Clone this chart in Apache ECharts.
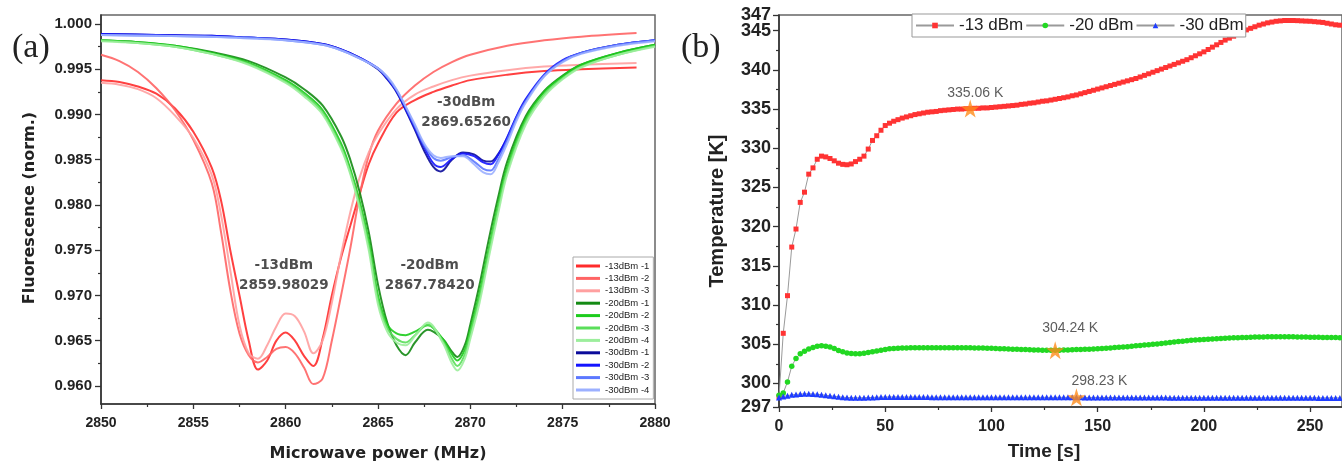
<!DOCTYPE html>
<html>
<head>
<meta charset="utf-8">
<title>ODMR spectra and temperature</title>
<script src="https://cdn.jsdelivr.net/npm/echarts@6/dist/echarts.min.js"></script>
<style>
  html, body { margin: 0; padding: 0; background: #fff; overflow: hidden; }
  #chart { width: 1342px; height: 463px; }
</style>
</head>
<body>
<div id="chart"></div>
<script>
// ---------- (a) fluorescence spectra ----------
const freqRed = [2850, 2851, 2852, 2853, 2854, 2855, 2856, 2856.5, 2857, 2857.5, 2858, 2858.5, 2859, 2859.5, 2860,
  2860.5, 2861, 2861.5, 2862, 2862.5, 2863, 2863.5, 2864, 2864.5, 2865, 2866, 2867, 2868, 2869, 2870, 2872, 2874, 2876, 2879]
const red1 = [0.9938, 0.9936, 0.9931, 0.9923, 0.9907, 0.9881, 0.9841, 0.9805, 0.9750, 0.9700, 0.9650, 0.9618, 0.9628, 0.9650, 0.9659,
  0.9650, 0.9633, 0.9622, 0.9652, 0.9700, 0.9742, 0.9777, 0.9812, 0.9845, 0.9868, 0.9902, 0.9916, 0.9925, 0.9932, 0.9938, 0.9944, 0.9948, 0.9950, 0.9952]
const red2 = [0.9966, 0.9959, 0.9947, 0.9929, 0.9905, 0.9872, 0.9824, 0.9770, 0.9706, 0.9658, 0.9634, 0.9626, 0.9632, 0.9641, 0.9643,
  0.9636, 0.9620, 0.9602, 0.9608, 0.9650, 0.9700, 0.9752, 0.9810, 0.9855, 0.9882, 0.9912, 0.9932, 0.9947, 0.9958, 0.9966, 0.9976, 0.9982, 0.9986, 0.9990]
const red3 = [0.9935, 0.9933, 0.9928, 0.9918, 0.9899, 0.9874, 0.9833, 0.9789, 0.9728, 0.9667, 0.9636, 0.9630, 0.9645, 0.9666, 0.9680,
  0.9677, 0.9660, 0.9636, 0.9650, 0.9692, 0.9745, 0.9792, 0.9830, 0.9858, 0.9878, 0.9906, 0.9922, 0.9931, 0.9938, 0.9943, 0.9949, 0.9953, 0.9955, 0.9957]

const freqGreen = [2850, 2852, 2854, 2856, 2858, 2860, 2861, 2862, 2863, 2863.5, 2864, 2864.5, 2865, 2865.5, 2866, 2866.5, 2867,
  2867.7, 2868.5, 2869, 2869.3, 2869.7, 2870, 2870.5, 2871, 2871.5, 2872, 2873, 2874, 2875, 2876, 2878, 2880]
const green1 = [0.9982, 0.9980, 0.9976, 0.9969, 0.9959, 0.9941, 0.9928, 0.9910, 0.9876, 0.9850, 0.9815, 0.9770, 0.9712, 0.9670, 0.9645, 0.9634, 0.9648,
  0.9662, 0.9652, 0.9638, 0.9632, 0.9645, 0.9668, 0.9712, 0.9762, 0.9808, 0.9848, 0.9898, 0.9926, 0.9943, 0.9955, 0.9968, 0.9977]
const green2 = [0.9982, 0.9980, 0.9976, 0.9968, 0.9957, 0.9938, 0.9924, 0.9905, 0.9868, 0.9840, 0.9805, 0.9760, 0.9700, 0.9668, 0.9658, 0.9656, 0.9660,
  0.9667, 0.9652, 0.9635, 0.9628, 0.9640, 0.9662, 0.9703, 0.9752, 0.9800, 0.9842, 0.9895, 0.9925, 0.9942, 0.9955, 0.9968, 0.9977]
const green3 = [0.9982, 0.9979, 0.9975, 0.9967, 0.9956, 0.9936, 0.9922, 0.9902, 0.9864, 0.9836, 0.9800, 0.9755, 0.9695, 0.9664, 0.9652, 0.9648, 0.9656,
  0.9668, 0.9650, 0.9630, 0.9622, 0.9635, 0.9658, 0.9698, 0.9748, 0.9796, 0.9838, 0.9892, 0.9922, 0.9940, 0.9953, 0.9966, 0.9976]
const green4 = [0.9981, 0.9979, 0.9975, 0.9967, 0.9955, 0.9935, 0.9920, 0.9900, 0.9862, 0.9834, 0.9797, 0.9750, 0.9690, 0.9660, 0.9648, 0.9645, 0.9655,
  0.9670, 0.9648, 0.9625, 0.9617, 0.9630, 0.9652, 0.9692, 0.9742, 0.9790, 0.9834, 0.9889, 0.9920, 0.9939, 0.9952, 0.9966, 0.9975]

const freqBlue = [2850, 2853, 2856, 2858, 2860, 2862, 2863, 2864, 2865, 2865.5, 2866, 2866.5, 2867, 2867.5, 2868, 2868.4, 2869,
  2869.6, 2870.2, 2870.7, 2871.1, 2871.5, 2872, 2872.5, 2873, 2874, 2875, 2876, 2878, 2880]
const blue1 = [0.9989, 0.9988, 0.9987, 0.9985, 0.9983, 0.9978, 0.9972, 0.9963, 0.9950, 0.9939, 0.9925, 0.9905, 0.9883, 0.9860, 0.9842, 0.9837, 0.9850,
  0.9858, 0.9856, 0.9849, 0.9848, 0.9856, 0.9874, 0.9897, 0.9916, 0.9943, 0.9959, 0.9968, 0.9977, 0.9982]
const blue2 = [0.9989, 0.9988, 0.9987, 0.9985, 0.9983, 0.9978, 0.9972, 0.9963, 0.9951, 0.9940, 0.9926, 0.9906, 0.9885, 0.9864, 0.9846, 0.9842, 0.9851,
  0.9857, 0.9854, 0.9847, 0.9845, 0.9855, 0.9875, 0.9898, 0.9917, 0.9944, 0.9960, 0.9968, 0.9977, 0.9982]
const blue3 = [0.9988, 0.9987, 0.9986, 0.9985, 0.9982, 0.9977, 0.9971, 0.9962, 0.9951, 0.9941, 0.9927, 0.9908, 0.9887, 0.9866, 0.9852, 0.9849, 0.9853,
  0.9855, 0.9848, 0.9840, 0.9838, 0.9850, 0.9872, 0.9896, 0.9915, 0.9943, 0.9959, 0.9968, 0.9977, 0.9982]
const blue4 = [0.9988, 0.9987, 0.9986, 0.9984, 0.9982, 0.9977, 0.9971, 0.9962, 0.9951, 0.9942, 0.9928, 0.9909, 0.9889, 0.9868, 0.9855, 0.9852, 0.9854,
  0.9854, 0.9845, 0.9836, 0.9834, 0.9846, 0.9868, 0.9893, 0.9913, 0.9942, 0.9958, 0.9967, 0.9976, 0.9981]

const freqTicks = [2850, 2855, 2860, 2865, 2870, 2875, 2880]
const freqMinor = [2852.5, 2857.5, 2862.5, 2867.5, 2872.5, 2877.5]
const fluorTicks = [0.960, 0.965, 0.970, 0.975, 0.980, 0.985, 0.990, 0.995, 1.000]
const fluorMinor = [0.9625, 0.9675, 0.9725, 0.9775, 0.9825, 0.9875, 0.9925, 0.9975]

const peakNotes = ['-13dBm\n2859.98029', '-20dBm\n2867.78420', '-30dBm\n2869.65260']
const peakNoteX = [2859.9, 2867.8, 2869.77]
const peakNoteY = [0.9722, 0.9722, 0.9902]

// ---------- (b) temperature vs time ----------
const times = [0, 2, 4, 6, 8, 10, 12, 14, 16, 18, 20, 22, 24, 26, 28, 30, 32, 34, 36, 38,
  40, 42, 44, 46, 48, 50, 52, 54, 56, 58, 60, 62, 64, 66, 68, 70, 72, 74, 76, 78,
  80, 82, 84, 86, 88, 90, 92, 94, 96, 98, 100, 102, 104, 106, 108, 110, 112, 114, 116, 118,
  120, 122, 124, 126, 128, 130, 132, 134, 136, 138, 140, 142, 144, 146, 148, 150, 152, 154, 156, 158,
  160, 162, 164, 166, 168, 170, 172, 174, 176, 178, 180, 182, 184, 186, 188, 190, 192, 194, 196, 198,
  200, 202, 204, 206, 208, 210, 212, 214, 216, 218, 220, 222, 224, 226, 228, 230, 232, 234, 236, 238,
  240, 242, 244, 246, 248, 250, 252, 254, 256, 258, 260, 262, 264]
const temp13 = [298.3, 306.4, 311.2, 317.4, 319.7, 323.1, 324.4, 326.7, 327.5, 328.6,
  329.0, 328.9, 328.7, 328.4, 328.1, 327.95, 327.9, 328.0, 328.3, 328.6,
  329.0, 329.9, 331.0, 331.6, 332.3, 332.9, 333.2, 333.45, 333.65, 333.85,
  334.0, 334.15, 334.3, 334.4, 334.5, 334.6, 334.65, 334.7, 334.8, 334.85,
  334.9, 334.95, 335.0, 335.0, 335.05, 335.06, 335.1, 335.1, 335.15, 335.15,
  335.2, 335.25, 335.3, 335.35, 335.4, 335.45, 335.5, 335.6, 335.65, 335.75,
  335.8, 335.9, 336.0, 336.05, 336.15, 336.25, 336.35, 336.45, 336.55, 336.7,
  336.8, 336.95, 337.1, 337.25, 337.4, 337.55, 337.7, 337.85, 338.0, 338.15,
  338.3, 338.45, 338.6, 338.75, 338.9, 339.1, 339.3, 339.5, 339.7, 339.9,
  340.1, 340.3, 340.5, 340.7, 340.9, 341.1, 341.3, 341.55, 341.8, 342.05,
  342.3, 342.6, 342.9, 343.2, 343.5, 343.8, 344.05, 344.3, 344.6, 344.85,
  345.1, 345.3, 345.5, 345.7, 345.85, 346.0, 346.1, 346.2, 346.25, 346.3,
  346.3, 346.3, 346.28, 346.25, 346.22, 346.2, 346.15, 346.1, 346.05, 345.95,
  345.85, 345.75, 345.7]
const temp20 = [298.5, 298.8, 300.2, 302.2, 303.2, 303.8, 304.1, 304.4, 304.6, 304.75,
  304.8, 304.75, 304.65, 304.45, 304.2, 304.05, 303.9, 303.82, 303.78, 303.8,
  303.85, 303.95, 304.05, 304.15, 304.25, 304.35, 304.42, 304.47, 304.5, 304.52,
  304.54, 304.55, 304.55, 304.55, 304.55, 304.55, 304.55, 304.55, 304.55, 304.55,
  304.55, 304.55, 304.55, 304.55, 304.55, 304.55, 304.54, 304.53, 304.52, 304.5,
  304.48, 304.46, 304.44, 304.42, 304.4, 304.38, 304.36, 304.34, 304.32, 304.3,
  304.28, 304.26, 304.25, 304.24, 304.24, 304.24, 304.25, 304.26, 304.28, 304.3,
  304.32, 304.34, 304.36, 304.38, 304.41, 304.44, 304.47, 304.5, 304.54, 304.58,
  304.62, 304.66, 304.7, 304.75, 304.8, 304.85, 304.9, 304.95, 305.0, 305.05,
  305.1, 305.16, 305.22, 305.28, 305.34, 305.4, 305.45, 305.5, 305.55, 305.59,
  305.62, 305.65, 305.68, 305.71, 305.74, 305.78, 305.8, 305.82, 305.84, 305.86,
  305.88, 305.9, 305.92, 305.93, 305.94, 305.95, 305.95, 305.96, 305.96, 305.96,
  305.95, 305.95, 305.94, 305.93, 305.92, 305.91, 305.9, 305.89, 305.88, 305.87,
  305.86, 305.85, 305.84]
const temp30 = [298.2, 298.35, 298.45, 298.55, 298.6, 298.65, 298.68, 298.68, 298.66, 298.62,
  298.57, 298.5, 298.43, 298.36, 298.3, 298.25, 298.21, 298.18, 298.17, 298.17,
  298.18, 298.2, 298.22, 298.24, 298.26, 298.27, 298.28, 298.28, 298.28, 298.27,
  298.27, 298.27, 298.26, 298.26, 298.26, 298.26, 298.25, 298.25, 298.25, 298.25,
  298.25, 298.25, 298.25, 298.25, 298.24, 298.24, 298.24, 298.24, 298.24, 298.24,
  298.24, 298.24, 298.24, 298.24, 298.24, 298.24, 298.23, 298.23, 298.23, 298.23,
  298.23, 298.23, 298.23, 298.23, 298.23, 298.23, 298.23, 298.23, 298.23, 298.23,
  298.23, 298.23, 298.22, 298.22, 298.22, 298.22, 298.22, 298.22, 298.21, 298.21,
  298.21, 298.21, 298.21, 298.21, 298.2, 298.2, 298.2, 298.2, 298.2, 298.2,
  298.2, 298.2, 298.19, 298.19, 298.19, 298.19, 298.19, 298.19, 298.19, 298.19,
  298.18, 298.18, 298.18, 298.18, 298.18, 298.18, 298.18, 298.18, 298.18, 298.18,
  298.17, 298.17, 298.17, 298.17, 298.17, 298.17, 298.17, 298.17, 298.17, 298.17,
  298.17, 298.17, 298.17, 298.17, 298.17, 298.17, 298.17, 298.16, 298.16, 298.16,
  298.16, 298.16, 298.16]

const starTimes = [90, 130, 140]
const starTemps = [335.06, 304.24, 298.23]
const starNotes = ['335.06 K', '304.24 K', '298.23 K']

const timeTicks = [0, 50, 100, 150, 200, 250]
const timeMinor = [25, 75, 125, 175, 225]
const tempTicks = [297, 300, 305, 310, 315, 320, 325, 330, 335, 340, 345]
const tempTopTick = [347]
const tempMinor = [302.5, 307.5, 312.5, 317.5, 322.5, 327.5, 332.5, 337.5, 342.5]

const SANS = '"Liberation Sans", Arial, sans-serif'
const WIDE = '"DejaVu Sans", sans-serif'
const SERIF = '"Liberation Serif", "Times New Roman", serif'
const STAR = 'path://M50,0 L61,35 L98,35 L68,57 L79,91 L50,70 L21,91 L32,57 L2,35 L39,35 Z'

const chart = echarts.init(document.getElementById('chart'))

function pairs(xs, ys) {
  return xs.map((x, i) => [x, ys[i]])
}

// axis carrying only the minor ticks, laid over a main axis
function minorAxis(gridIndex, position, min, max, values) {
  return {
    gridIndex, position, type: 'value', min, max,
    axisLine: { show: false },
    axisLabel: { show: false },
    splitLine: { show: false },
    axisTick: { show: true, customValues: values, length: 3, lineStyle: { color: '#333', width: 1.2 } }
  }
}

function mainAxis(gridIndex, position, min, max, ticks, labelSize, margin, tickLen, formatter) {
  return {
    gridIndex, position, type: 'value', min, max,
    axisLine: { onZero: false, lineStyle: { color: '#333', width: 1.6 } },
    axisTick: { customValues: ticks, length: tickLen, lineStyle: { color: '#333', width: 1.3 } },
    axisLabel: {
      customValues: ticks, fontSize: labelSize, fontWeight: 'bold', fontFamily: SANS,
      color: '#222', margin, showMinLabel: true, showMaxLabel: true,
      formatter: formatter || (v => String(v))
    },
    splitLine: { show: false }
  }
}

// the 347 label sits on its own overlay so it does not hide 345
const topTempAxis = mainAxis(1, 'left', 297, 347, tempTopTick, 18, 8, 6)
topTempAxis.axisLine = { show: false }

const spectra = [
  { name: '-13dBm -1', x: freqRed, y: red1, color: '#ff2b2b' },
  { name: '-13dBm -2', x: freqRed, y: red2, color: '#ff6464' },
  { name: '-13dBm -3', x: freqRed, y: red3, color: '#ffa0a0' },
  { name: '-20dBm -1', x: freqGreen, y: green1, color: '#138a13' },
  { name: '-20dBm -2', x: freqGreen, y: green2, color: '#1ccc1c' },
  { name: '-20dBm -3', x: freqGreen, y: green3, color: '#5ade5a' },
  { name: '-20dBm -4', x: freqGreen, y: green4, color: '#9cee9c' },
  { name: '-30dBm -1', x: freqBlue, y: blue1, color: '#0a0a9a' },
  { name: '-30dBm -2', x: freqBlue, y: blue2, color: '#1414ff' },
  { name: '-30dBm -3', x: freqBlue, y: blue3, color: '#5c78ff' },
  { name: '-30dBm -4', x: freqBlue, y: blue4, color: '#9cb0ff' }
]

const temps = [
  { name: '-13 dBm', y: temp13, symbol: 'rect', size: 5, color: '#ff3333' },
  { name: '-20 dBm', y: temp20, symbol: 'circle', size: 5.5, color: '#22d822' },
  { name: '-30 dBm', y: temp30, symbol: 'triangle', size: 6, color: '#1f3dff' }
]

const series = []
spectra.forEach(s => {
  series.push({
    type: 'line', name: s.name, xAxisIndex: 0, yAxisIndex: 0,
    data: pairs(s.x, s.y), smooth: 0.35, symbol: 'none', showSymbol: false,
    lineStyle: { color: s.color, width: 2, opacity: 0.9 }, itemStyle: { color: s.color },
    animation: false
  })
})
temps.forEach(s => {
  series.push({
    type: 'line', name: s.name, xAxisIndex: 1, yAxisIndex: 1,
    data: pairs(times, s.y), symbol: s.symbol, symbolSize: s.size,
    showSymbol: true, showAllSymbol: true,
    lineStyle: { color: '#9a9a9a', width: 1 }, itemStyle: { color: s.color },
    animation: false
  })
})
// resonance labels inside (a)
series.push({
  type: 'scatter', name: 'notes', xAxisIndex: 0, yAxisIndex: 0, symbolSize: 1,
  itemStyle: { color: 'transparent' }, silent: true, z: 6,
  data: peakNotes.map((t, i) => ({ name: t, value: [peakNoteX[i], peakNoteY[i]] })),
  label: {
    show: true, position: 'inside', formatter: '{b}', fontFamily: WIDE, fontWeight: 'bold',
    fontSize: 13.5, lineHeight: 20, color: '#222', align: 'center'
  }
})
// marked temperatures in (b)
const starOffsets = [[5, -15], [15, -22], [23, -16]]
series.push({
  type: 'scatter', name: 'stars', xAxisIndex: 1, yAxisIndex: 1,
  symbol: STAR, symbolSize: 18, itemStyle: { color: '#ff8c1a' }, z: 6,
  data: starTimes.map((t, i) => ({
    name: starNotes[i], value: [t, starTemps[i]],
    label: { offset: starOffsets[i] }
  })),
  label: { show: true, position: 'inside', formatter: '{b}', fontFamily: SANS, fontSize: 14, color: '#333' }
})

chart.setOption({
  backgroundColor: '#fff',
  animation: false,
  grid: [
    { left: 101, top: 15, width: 554, height: 389, show: true, borderColor: '#666', borderWidth: 1.5 },
    { left: 779, top: 15, width: 565, height: 392, show: true, borderColor: '#666', borderWidth: 1.5 }
  ],
  xAxis: [
    mainAxis(0, 'bottom', 2850, 2880, freqTicks, 14, 12, 5),
    mainAxis(1, 'bottom', 0, 265, timeTicks, 16, 12, 5),
    minorAxis(0, 'bottom', 2850, 2880, freqMinor),
    minorAxis(1, 'bottom', 0, 265, timeMinor)
  ],
  yAxis: [
    mainAxis(0, 'left', 0.958, 1.001, fluorTicks, 15, 9, 6, v => v.toFixed(3)),
    mainAxis(1, 'left', 297, 347, tempTicks, 18, 8, 6),
    minorAxis(0, 'left', 0.958, 1.001, fluorMinor),
    minorAxis(1, 'left', 297, 347, tempMinor),
    topTempAxis
  ],
  legend: [
    {
      data: spectra.map(s => s.name), orient: 'vertical', left: 573, top: 257,
      icon: 'rect', itemWidth: 24, itemHeight: 3, itemGap: 2.4,
      padding: [4, 4, 4, 3], borderColor: '#aaa', borderWidth: 1, backgroundColor: '#fff',
      textStyle: { fontFamily: SANS, fontSize: 9.5, lineHeight: 10, color: '#222' },
      selectedMode: false
    },
    {
      data: temps.map(s => s.name), orient: 'horizontal', left: 912, top: 14,
      itemWidth: 38, itemHeight: 7, itemGap: 2,
      padding: [3, 2, 3, 3], borderColor: '#999', borderWidth: 1, backgroundColor: '#fff',
      textStyle: { fontFamily: SANS, fontSize: 17, color: '#222' },
      selectedMode: false
    }
  ],
  graphic: [
    { type: 'text', x: 12, y: 48, style: { text: '(a)', font: '34px ' + SERIF, fill: '#222', textVerticalAlign: 'middle' } },
    { type: 'text', x: 681, y: 48, style: { text: '(b)', font: '34px ' + SERIF, fill: '#222', textVerticalAlign: 'middle' } },
    {
      type: 'text', x: 30, y: 208, rotation: Math.PI / 2,
      style: { text: 'Fluorescence (norm.)', font: 'bold 16px ' + WIDE, fill: '#222', textAlign: 'center', textVerticalAlign: 'middle' }
    },
    {
      type: 'text', x: 378, y: 454,
      style: { text: 'Microwave power (MHz)', font: 'bold 16px ' + WIDE, fill: '#222', textAlign: 'center', textVerticalAlign: 'middle' }
    },
    {
      type: 'text', x: 717, y: 211, rotation: Math.PI / 2,
      style: { text: 'Temperature [K]', font: 'bold 20px ' + SANS, fill: '#222', textAlign: 'center', textVerticalAlign: 'middle' }
    },
    {
      type: 'text', x: 1044, y: 452,
      style: { text: 'Time [s]', font: 'bold 19px ' + SANS, fill: '#222', textAlign: 'center', textVerticalAlign: 'middle' }
    }
  ],
  series
})
</script>
</body>
</html>
